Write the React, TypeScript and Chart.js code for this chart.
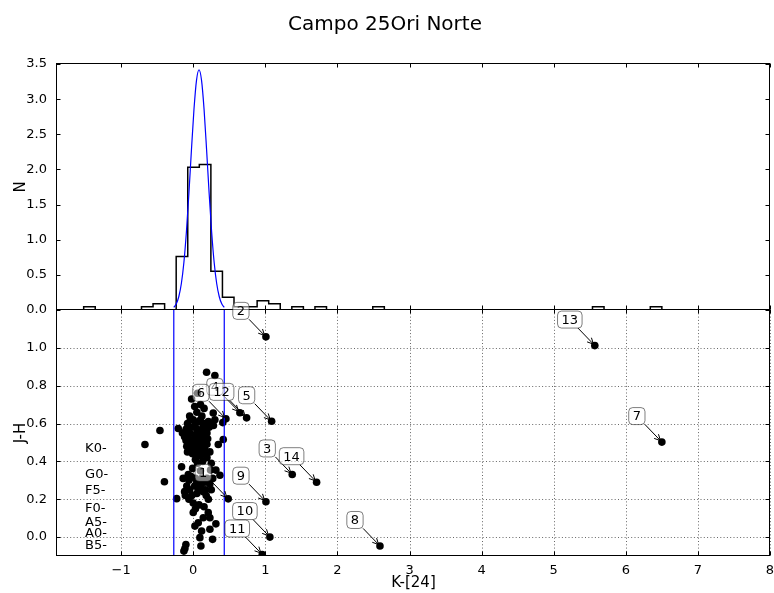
import React, { useEffect, useRef } from 'react';
import { Chart, registerables } from 'chart.js';

Chart.register(...registerables);

const FONT = "'DejaVu Sans', 'Liberation Sans', sans-serif";

// ---------- text ----------
const chartTitle = 'Campo 25Ori Norte';
const xAxisLabel = 'K-[24]';
const topAxisLabel = 'N';
const bottomAxisLabel = 'J-H';

// ---------- axes ----------
const xMin = -1.89;
const xMax = 8;
const xTickValues = [-1, 0, 1, 2, 3, 4, 5, 6, 7, 8];
const nMin = 0;
const nMax = 3.5;
const nTickValues = [0, 0.5, 1, 1.5, 2, 2.5, 3, 3.5];
const jhMin = -0.1;
const jhMax = 1.2;
const jhTickValues = [0, 0.2, 0.4, 0.6, 0.8, 1.0];

// ---------- histogram (top panel) ----------
const histStart = -1.52;
const histBinWidth = 0.1604;
const histHeights = [
  0.045, 0, 0, 0, 0, 0.045, 0.09, 0, 0.76, 2.03,
  2.07, 0.55, 0.18, 0.045, 0.045, 0.13, 0.09, 0, 0.045, 0,
  0.045, 0, 0, 0, 0, 0.045, 0, 0, 0, 0,
  0, 0, 0, 0, 0, 0, 0, 0, 0, 0,
  0, 0, 0, 0, 0.045, 0, 0, 0, 0, 0.045,
];

// fitted gaussian curve
const gaussK = [-0.27, -0.235, -0.2, -0.165, -0.13, -0.095, -0.06, -0.025, 0.01, 0.045, 0.08,
  0.115, 0.15, 0.185, 0.22, 0.255, 0.29, 0.325, 0.36, 0.395, 0.43];
const gaussN = [0.038, 0.089, 0.192, 0.377, 0.676, 1.11, 1.664, 2.28, 2.855, 3.268, 3.418,
  3.268, 2.855, 2.28, 1.664, 1.11, 0.676, 0.377, 0.192, 0.089, 0.038];

// selection limits (blue vertical lines)
const cutLowK = -0.27;
const cutHighK = 0.43;

// ---------- colour-colour points (bottom panel) ----------
const starK = [
  0.185, 0.30, -0.023, 0.06, 0.10, 0.02, 0.15, 0.05, -0.05, 0.12,
  0.277, 0.30, 0.453, 0.41, 0.647, 0.74, 0.0, 0.08, 0.17, -0.08,
  0.22, -0.208, -0.462, -0.67, -0.15, -0.12, -0.02, 0.05, 0.12, 0.19,
  -0.05, 0.02, 0.08, 0.14, 0.20, -0.10, -0.03, 0.05, 0.11, 0.416,
  0.347, -0.09, 0.0, 0.07, 0.16, 0.23, -0.01, 0.10, 0.19, 0.03,
  0.13, 0.06, 0.25, -0.162,
  -0.10, -0.08, -0.04, 0.03, 0.06, -0.06, 0.01, 0.04, -0.04, 0.07,
  0.10, 0.14, 0.18, 0.10, 0.16, 0.12, 0.19, 0.09, 0.14, 0.21, 0.28,
  -0.009, 0.24, 0.314, 0.37, -0.40, -0.069, 0.10, -0.06, -0.09, -0.05,
  0.02, 0.09, 0.16, 0.23, 0.25, 0.14, 0.05, 0.18, -0.12, -0.23,
  0.485, -0.06, 0.0, 0.08, 0.15, 0.03, 0.0, 0.208, 0.231, 0.139,
  0.069, 0.023, 0.116, 0.314, 0.231, 0.268, 0.092, 0.106, -0.102, -0.116,
  -0.13,
  -0.14, -0.11, -0.03, 0.03, 0.07, -0.02, 0.05, 0.12, 0.19, 0.11, 0.17, 0.21, 0.27,
  1.008, 1.087, 1.373, 1.711, 1.008, 1.063, 0.957, 2.59, 5.57, 6.50,
];
const starJH = [
  0.871, 0.854, 0.73, 0.76, 0.70, 0.69, 0.68, 0.66, 0.64, 0.64,
  0.656, 0.62, 0.625, 0.605, 0.657, 0.63, 0.62, 0.61, 0.60, 0.60,
  0.58, 0.574, 0.563, 0.489, 0.55, 0.53, 0.58, 0.57, 0.57, 0.55,
  0.55, 0.54, 0.53, 0.52, 0.52, 0.51, 0.50, 0.50, 0.49, 0.516,
  0.489, 0.48, 0.47, 0.46, 0.46, 0.45, 0.44, 0.43, 0.42, 0.41,
  0.40, 0.39, 0.39, 0.371,
  0.57, 0.45, 0.62, 0.60, 0.55, 0.52, 0.51, 0.48, 0.46, 0.44,
  0.62, 0.59, 0.57, 0.55, 0.54, 0.51, 0.49, 0.47, 0.44, 0.61, 0.59,
  0.363, 0.354, 0.354, 0.327, 0.292, 0.331, 0.35, 0.30, 0.27, 0.25,
  0.27, 0.28, 0.29, 0.28, 0.25, 0.24, 0.23, 0.22, 0.24, 0.203,
  0.202, 0.20, 0.18, 0.17, 0.16, 0.15, 0.13, 0.129, 0.102, 0.102,
  0.076, 0.058, 0.032, 0.07, 0.041, -0.012, -0.003, -0.047, -0.039, -0.06,
  -0.074,
  0.31, 0.22, 0.32, 0.31, 0.25, 0.22, 0.29, 0.31, 0.31, 0.26, 0.25, 0.20, 0.31,
  1.058, 0.612, 0.331, 0.29, 0.187, 0.0, -0.092, -0.047, 1.012, 0.502,
];

// numbered annotations
const annIds = ['1', '2', '3', '4', '5', '6', '7', '8', '9', '10', '11', '12', '13', '14'];
const annK = [0.485, 1.008, 1.373, 0.647, 1.087, 0.453, 6.50, 2.59, 1.008, 1.063, 0.957, 0.74, 5.57, 1.711];
const annJH = [0.202, 1.058, 0.331, 0.657, 0.612, 0.625, 0.502, -0.047, 0.187, 0.0, -0.092, 0.63, 1.012, 0.29];

// spectral type markers
const spectralTypes = ['K0-', 'G0-', 'F5-', 'F0-', 'A5-', 'A0-', 'B5-'];
const spectralJH = [0.45, 0.31, 0.23, 0.13, 0.06, 0.0, -0.065];
const spectralK = -1.5;

// ---------- derived datasets ----------
const histPoints = [
  { x: histStart, y: 0 },
  ...histHeights.map((h, i) => ({ x: histStart + i * histBinWidth, y: h })),
  { x: histStart + histHeights.length * histBinWidth, y: 0 },
];
const gaussPoints = gaussK.map((k, i) => ({ x: k, y: gaussN[i] }));
const starPoints = starK.map((k, i) => ({ x: k, y: starJH[i] }));

const fmtX = (v: number) => (v < 0 ? '\u2212' + Math.abs(v) : String(v));

function seg(ctx: CanvasRenderingContext2D, x1: number, y1: number, x2: number, y2: number) {
  ctx.beginPath();
  ctx.moveTo(x1, y1);
  ctx.lineTo(x2, y2);
  ctx.stroke();
}

function roundRectPath(ctx: CanvasRenderingContext2D, x: number, y: number, w: number, h: number, r: number) {
  ctx.beginPath();
  ctx.moveTo(x + r, y);
  ctx.lineTo(x + w - r, y);
  ctx.quadraticCurveTo(x + w, y, x + w, y + r);
  ctx.lineTo(x + w, y + h - r);
  ctx.quadraticCurveTo(x + w, y + h, x + w - r, y + h);
  ctx.lineTo(x + r, y + h);
  ctx.quadraticCurveTo(x, y + h, x, y + h - r);
  ctx.lineTo(x, y + r);
  ctx.quadraticCurveTo(x, y, x + r, y);
  ctx.closePath();
}

const ANN_DX = -25;
const ANN_DY = -26;

const decorPlugin = {
  id: 'decor',
  beforeDatasetsDraw(chart: any) {
    const { ctx } = chart;
    const xs = chart.scales.x;
    const yb = chart.scales.yBot;
    ctx.save();
    ctx.strokeStyle = 'rgba(0,0,0,0.6)';
    ctx.lineWidth = 1;
    ctx.setLineDash([1, 2.3]);
    xTickValues.forEach((v) => {
      const px = Math.round(xs.getPixelForValue(v)) + 0.5;
      seg(ctx, px, yb.top, px, yb.bottom);
    });
    jhTickValues.forEach((v) => {
      const py = Math.round(yb.getPixelForValue(v)) + 0.5;
      seg(ctx, xs.left, py, xs.right, py);
    });
    ctx.restore();
  },
  afterDatasetsDraw(chart: any) {
    const { ctx } = chart;
    const xs = chart.scales.x;
    const yt = chart.scales.yTop;
    const yb = chart.scales.yBot;
    ctx.save();
    ctx.setLineDash([]);
    ctx.strokeStyle = '#000';
    ctx.lineWidth = 1;
    const L = Math.round(xs.left) - 0.5;
    const R = Math.round(xs.right) - 0.5;
    const TL = 4;
    [[yt, nTickValues], [yb, jhTickValues]].forEach(([sc, vals]: any) => {
      const T = Math.round(sc.top) - 0.5;
      const B = Math.round(sc.bottom) - 0.5;
      ctx.strokeRect(L, T, R - L, B - T);
      xTickValues.forEach((v) => {
        const px = Math.round(xs.getPixelForValue(v)) + 0.5;
        seg(ctx, px, B, px, B - TL);
        seg(ctx, px, T, px, T + TL);
      });
      vals.forEach((v: number) => {
        const py = Math.round(sc.getPixelForValue(v)) + 0.5;
        seg(ctx, L, py, L + TL, py);
        seg(ctx, R, py, R - TL, py);
      });
    });

    // spectral types
    ctx.fillStyle = '#000';
    ctx.font = `13px ${FONT}`;
    ctx.textAlign = 'left';
    ctx.textBaseline = 'alphabetic';
    spectralTypes.forEach((s, i) => {
      ctx.fillText(s, xs.getPixelForValue(spectralK), yb.getPixelForValue(spectralJH[i]));
    });

    // annotations
    annIds.forEach((label, i) => {
      const px = xs.getPixelForValue(annK[i]);
      const py = yb.getPixelForValue(annJH[i]);
      const cx = px + ANN_DX;
      const cy = py + ANN_DY;
      ctx.font = `13px ${FONT}`;
      const tw = ctx.measureText(label).width;
      const w = tw + 8;
      const h = 17;
      const dx = px - cx;
      const dy = py - cy;
      const len = Math.hypot(dx, dy);
      const ux = dx / len;
      const uy = dy / len;
      const tEdge = Math.min(w / 2 / Math.abs(dx), h / 2 / Math.abs(dy));
      const sx = cx + dx * tEdge;
      const sy = cy + dy * tEdge;
      const ex = px - ux * 2;
      const ey = py - uy * 2;
      ctx.strokeStyle = '#000';
      ctx.lineWidth = 1;
      seg(ctx, sx, sy, ex, ey);
      const hl = 6;
      const hw = 3;
      const bx = ex - ux * hl;
      const by = ey - uy * hl;
      ctx.beginPath();
      ctx.moveTo(bx - uy * hw, by + ux * hw);
      ctx.lineTo(ex, ey);
      ctx.lineTo(bx + uy * hw, by - ux * hw);
      ctx.stroke();
      roundRectPath(ctx, cx - w / 2, cy - h / 2, w, h, 4);
      ctx.fillStyle = 'rgba(255,255,255,0.5)';
      ctx.fill();
      ctx.strokeStyle = 'rgba(0,0,0,0.5)';
      ctx.stroke();
      ctx.fillStyle = '#000';
      ctx.textAlign = 'center';
      ctx.textBaseline = 'middle';
      ctx.fillText(label, cx, cy + 1);
    });
    ctx.restore();
  },
};

export default function App() {
  const ref = useRef<HTMLCanvasElement>(null);
  useEffect(() => {
    if (!ref.current) return;
    Chart.defaults.font.family = FONT;
    Chart.defaults.color = '#000';
    const tickFont = { family: FONT, size: 13 };
    const titleFont = { family: FONT, size: 15 };
    const chart = new Chart(ref.current, {
      type: 'scatter',
      data: {
        datasets: [
          {
            type: 'line',
            label: 'hist',
            data: histPoints,
            xAxisID: 'x',
            yAxisID: 'yTop',
            borderColor: '#000',
            borderWidth: 1.5,
            pointRadius: 0,
            fill: false,
            stepped: 'before',
            order: 2,
          },
          {
            type: 'line',
            label: 'gauss',
            data: gaussPoints,
            xAxisID: 'x',
            yAxisID: 'yTop',
            borderColor: '#0000ff',
            borderWidth: 1.2,
            pointRadius: 0,
            fill: false,
            cubicInterpolationMode: 'monotone',
            order: 1,
          },
          {
            type: 'line',
            label: 'cutLow',
            data: [{ x: cutLowK, y: jhMin }, { x: cutLowK, y: jhMax }],
            xAxisID: 'x',
            yAxisID: 'yBot',
            borderColor: '#0000ff',
            borderWidth: 1.2,
            pointRadius: 0,
            fill: false,
            order: 0,
          },
          {
            type: 'line',
            label: 'cutHigh',
            data: [{ x: cutHighK, y: jhMin }, { x: cutHighK, y: jhMax }],
            xAxisID: 'x',
            yAxisID: 'yBot',
            borderColor: '#0000ff',
            borderWidth: 1.2,
            pointRadius: 0,
            fill: false,
            order: 0,
          },
          {
            type: 'scatter',
            label: 'stars',
            data: starPoints,
            xAxisID: 'x',
            yAxisID: 'yBot',
            pointRadius: 3.8,
            pointHoverRadius: 3.8,
            backgroundColor: '#000',
            borderColor: '#000',
            borderWidth: 0,
            order: 3,
          },
        ] as any,
      },
      options: {
        responsive: false,
        animation: false,
        devicePixelRatio: 1,
        layout: { padding: { left: 0, right: 4, top: 0, bottom: 0 } },
        plugins: {
          legend: { display: false },
          tooltip: { enabled: false },
          title: {
            display: true,
            text: chartTitle,
            color: '#000',
            font: { family: FONT, size: 20, weight: 'normal' },
            padding: { top: 13, bottom: 27 },
          },
        },
        scales: {
          x: {
            type: 'linear',
            min: xMin,
            max: xMax,
            afterBuildTicks: (s: any) => {
              s.ticks = xTickValues.map((v) => ({ value: v }));
            },
            afterFit: (s: any) => {
              s.height = 37;
              s.paddingLeft = 0;
              s.paddingRight = 0;
            },
            grid: { display: false, drawTicks: false },
            border: { display: false },
            ticks: {
              padding: 7,
              color: '#000',
              font: tickFont,
              autoSkip: false,
              maxRotation: 0,
              callback: (v: any) => fmtX(Number(v)),
            },
            title: {
              display: true,
              text: xAxisLabel,
              color: '#000',
              font: titleFont,
              padding: { top: 0, bottom: 1 },
            },
          },
          yBot: {
            type: 'linear',
            position: 'left',
            stack: 'panels',
            stackWeight: 1,
            min: jhMin,
            max: jhMax,
            afterBuildTicks: (s: any) => {
              s.ticks = jhTickValues.map((v) => ({ value: v }));
            },
            afterFit: (s: any) => {
              s.width = 57;
            },
            grid: { display: false, drawTicks: false },
            border: { display: false },
            ticks: {
              padding: 10,
              color: '#000',
              font: tickFont,
              autoSkip: false,
              callback: (v: any) => Number(v).toFixed(1),
            },
            title: {
              display: true,
              text: bottomAxisLabel,
              color: '#000',
              font: titleFont,
              padding: { top: 12, bottom: 0 },
            },
          },
          yTop: {
            type: 'linear',
            position: 'left',
            stack: 'panels',
            stackWeight: 1,
            min: nMin,
            max: nMax,
            afterBuildTicks: (s: any) => {
              s.ticks = nTickValues.map((v) => ({ value: v }));
            },
            afterFit: (s: any) => {
              s.width = 57;
            },
            grid: { display: false, drawTicks: false },
            border: { display: false },
            ticks: {
              padding: 10,
              color: '#000',
              font: tickFont,
              autoSkip: false,
              callback: (v: any) => Number(v).toFixed(1),
            },
            title: {
              display: true,
              text: topAxisLabel,
              color: '#000',
              font: titleFont,
              padding: { top: 12, bottom: 0 },
            },
          },
        },
      } as any,
      plugins: [decorPlugin],
    });
    return () => chart.destroy();
  }, []);
  return (
    <div style={{ position: 'fixed', left: 0, top: 0, width: 774, height: 593, background: '#fff' }}>
      <canvas ref={ref} width={774} height={593} style={{ display: 'block', width: 774, height: 593 }} />
    </div>
  );
}
